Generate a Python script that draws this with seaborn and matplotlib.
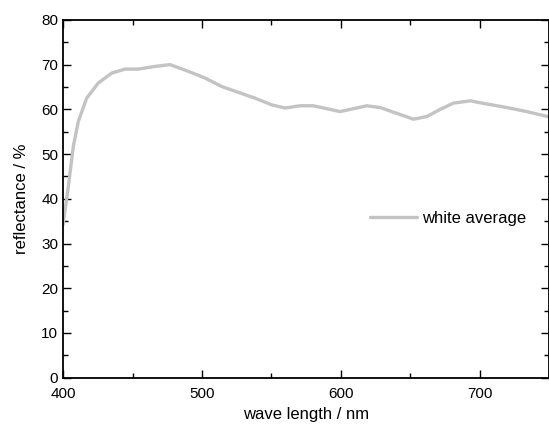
import matplotlib
matplotlib.use("Agg")
import matplotlib.pyplot as plt
import seaborn as sns
import pandas as pd
from matplotlib.ticker import MultipleLocator

wavelength = [400, 403.8, 407.4, 411, 417, 425.4, 435, 444.6, 454.2, 466.2, 477,
              490.2, 502.2, 514.2, 526.2, 538.2, 550.2, 559.8, 570.6, 580.2, 599.4,
              618.6, 628.2, 640.2, 652.2, 661.8, 671.4, 681, 693, 705, 719.4, 733.8, 750]
reflectance = [34.2, 42.7, 51.7, 57.3, 62.5, 65.9, 68.1, 69.0, 69.0, 69.6, 70.0,
               68.5, 67.0, 65.1, 63.8, 62.5, 61.0, 60.3, 60.8, 60.8, 59.5,
               60.8, 60.4, 59.1, 57.8, 58.4, 60.0, 61.4, 61.9, 61.2, 60.4, 59.5, 58.3]
series_name = "white average"

df = pd.DataFrame({"wavelength": wavelength, "reflectance": reflectance,
                   "series": series_name})

sns.set_style("ticks")
plt.rcParams['font.family'] = ['Liberation Sans Narrow', 'Liberation Sans', 'DejaVu Sans']
plt.rcParams['text.color'] = 'black'
plt.rcParams['axes.labelcolor'] = 'black'

fig = plt.figure(figsize=(5.49, 4.28), dpi=100)
ax = fig.add_axes([0.1148, 0.1175, 0.886, 0.836])

sns.lineplot(data=df, x="wavelength", y="reflectance", hue="series",
             palette=["#c3c3c3"], linewidth=2.4, ax=ax, estimator=None, sort=False)

ax.set_xlim(400, 750)
ax.set_ylim(0, 80)
ax.xaxis.set_major_locator(MultipleLocator(100))
ax.xaxis.set_minor_locator(MultipleLocator(50))
ax.yaxis.set_major_locator(MultipleLocator(10))
ax.yaxis.set_minor_locator(MultipleLocator(5))
ax.tick_params(which="both", direction="in", top=True, right=True,
               width=1.0, labelsize=11, colors="black", labelcolor="black")
ax.tick_params(axis="x", which="major", pad=7)
ax.tick_params(which="major", length=6)
ax.tick_params(which="minor", length=3.5)
for s in ax.spines.values():
    s.set_linewidth(1.3)
    s.set_color("black")

ax.set_xlabel("wave length / nm", fontsize=12, labelpad=4, color="black")
ax.set_ylabel("reflectance / %", fontsize=12, labelpad=9, color="black")

leg = ax.legend(loc="center left", bbox_to_anchor=(0.6, 0.445), frameon=False,
                fontsize=12, handlelength=2.8, handletextpad=0.3)
for t in leg.get_texts():
    t.set_color("black")

fig.savefig("out.png", dpi=100)
